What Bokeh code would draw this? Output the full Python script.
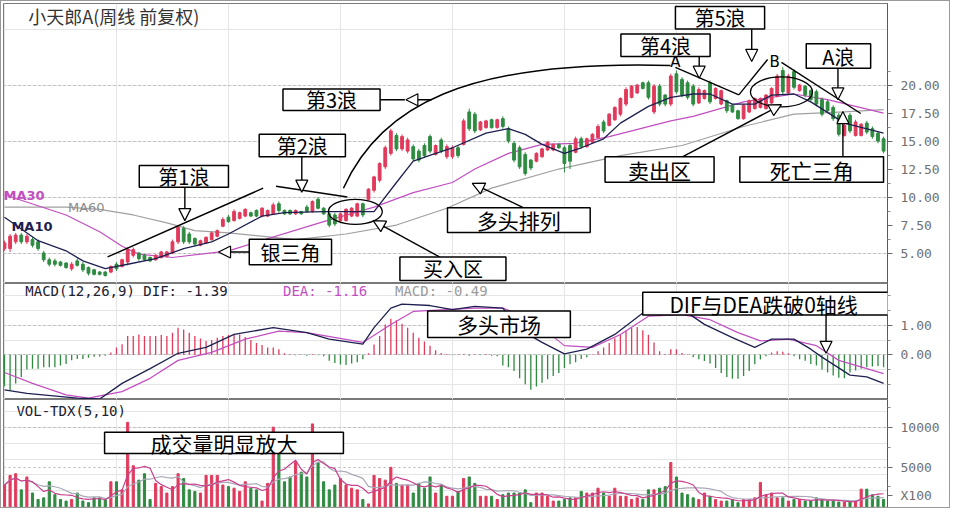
import pandas as pd
from bokeh.plotting import figure
from bokeh.models import (ColumnDataSource, Range1d, LinearAxis, FixedTicker, NumeralTickFormatter,
                          Label, Arrow, NormalHead, BoxAnnotation, Grid)
from bokeh.layouts import column
from bokeh.embed import file_html
from bokeh.resources import INLINE

# ---------------- data ----------------
OPEN = [5.4, 5.4, 6.0, 6.6, 6.0, 6.2, 6.0, 5.0, 4.4, 4.3,
        4.2, 4.1, 3.6, 4.3, 4.0, 3.7, 3.5, 3.3, 3.3, 3.3,
        4.0, 3.8, 4.2, 4.8, 5.0, 4.8, 4.6, 4.4, 4.6, 4.7,
        5.0, 6.0, 7.2, 6.7, 6.3, 5.7, 5.9, 6.2, 6.5, 7.4,
        8.2, 7.9, 8.1, 8.3, 8.6, 8.8, 8.3, 8.3, 8.5, 9.4,
        8.8, 8.8, 8.5, 8.7, 9.1, 8.7, 9.8, 9.0, 8.5, 8.4,
        7.9, 7.9, 8.3, 8.3, 9.4, 9.8, 10.6, 11.5, 12.7, 13.9,
        15.5, 14.3, 14.1, 14.5, 14.1, 14.6, 15.4, 13.8, 15.1, 13.6,
        13.6, 14.4, 14.7, 17.6, 17.4, 16.0, 16.2, 16.9, 16.2, 17.0,
        16.1, 14.8, 14.4, 13.8, 13.3, 13.2, 13.6, 14.2, 14.2, 14.7,
        14.4, 14.6, 14.0, 15.2, 14.5, 14.9, 15.3, 16.7, 16.4, 16.9,
        17.4, 18.3, 18.9, 19.3, 20.2, 20.2, 17.6, 19.9, 19.1, 18.3,
        21.0, 20.5, 20.2, 19.9, 18.4, 18.8, 20.2, 18.8, 18.3, 18.6,
        18.2, 17.7, 17.0, 17.6, 17.9, 18.0, 17.9, 18.4, 19.0, 21.3,
        19.3, 21.2, 19.5, 19.9, 19.5, 19.4, 18.7, 18.5, 18.0, 17.3,
        15.5, 17.3, 15.5, 15.5, 16.6, 16.1, 15.7, 15.2]
CLOSE = [5.9, 6.5, 6.6, 6.0, 6.5, 5.7, 5.4, 4.4, 4.0, 4.0,
         3.9, 3.7, 4.0, 3.9, 3.5, 3.2, 3.1, 3.1, 3.0, 3.8,
         3.6, 4.4, 5.3, 5.3, 4.5, 4.4, 4.3, 4.8, 5.1, 5.1,
         6.0, 7.3, 6.0, 6.0, 5.8, 6.1, 6.4, 6.8, 7.0, 8.0,
         7.8, 8.7, 8.6, 8.9, 8.3, 8.3, 9.0, 8.8, 9.3, 8.8,
         8.5, 8.5, 8.8, 8.5, 8.7, 9.6, 9.0, 8.5, 7.5, 7.6,
         8.5, 8.9, 9.0, 9.4, 8.4, 10.7, 11.8, 13.0, 14.4, 15.9,
         14.3, 15.4, 15.1, 13.4, 13.3, 13.7, 14.1, 14.6, 14.1, 14.5,
         14.4, 13.7, 16.8, 16.1, 15.9, 16.7, 16.8, 16.2, 16.9, 16.3,
         15.0, 13.3, 12.7, 12.1, 12.6, 13.9, 14.3, 14.9, 14.7, 14.4,
         13.0, 13.2, 15.2, 14.5, 15.2, 15.6, 16.3, 15.9, 17.4, 18.0,
         18.8, 19.6, 19.9, 20.0, 19.7, 18.9, 19.9, 18.3, 18.3, 20.8,
         19.4, 19.1, 18.9, 18.3, 19.6, 19.5, 18.5, 19.7, 19.5, 17.7,
         17.6, 17.0, 18.2, 18.6, 18.8, 18.8, 19.1, 19.7, 20.8, 19.4,
         20.8, 19.8, 20.0, 19.1, 18.7, 18.3, 17.4, 17.7, 17.0, 15.6,
         16.4, 15.9, 16.7, 16.5, 15.8, 15.4, 15.0, 14.1]
HIGH = [6.1, 6.7, 6.8, 6.8, 6.7, 6.4, 6.2, 5.2, 4.6, 4.5,
        4.3, 4.2, 4.2, 4.5, 4.2, 3.8, 3.6, 3.4, 3.4, 3.9,
        4.2, 4.5, 5.5, 5.5, 5.1, 4.9, 4.7, 4.9, 5.2, 5.2,
        6.2, 7.5, 7.4, 6.9, 6.4, 6.2, 6.5, 6.9, 7.1, 8.2,
        8.4, 8.9, 8.7, 9.0, 8.7, 8.9, 9.1, 8.9, 9.5, 9.6,
        8.9, 8.9, 8.9, 8.7, 9.3, 9.7, 10.0, 9.1, 8.7, 8.6,
        8.6, 9.0, 9.1, 9.5, 9.5, 10.8, 11.9, 13.1, 14.6, 16.1,
        15.7, 15.6, 15.3, 14.7, 14.3, 14.8, 15.6, 14.7, 15.3, 14.7,
        14.6, 14.6, 17.0, 17.9, 17.6, 16.8, 16.9, 17.0, 17.0, 17.2,
        16.3, 15.0, 14.6, 14.0, 13.4, 14.0, 14.4, 15.0, 14.8, 14.8,
        14.6, 14.8, 15.4, 15.4, 15.3, 15.7, 16.5, 16.9, 17.5, 18.1,
        18.9, 19.8, 20.0, 20.1, 20.3, 20.4, 20.1, 20.1, 19.2, 21.0,
        21.3, 20.7, 20.4, 20.1, 19.8, 19.6, 20.4, 19.8, 19.6, 18.7,
        18.3, 17.8, 18.3, 18.7, 18.9, 18.9, 19.2, 19.8, 21.0, 21.6,
        21.0, 21.4, 20.1, 20.0, 19.6, 19.6, 18.9, 18.7, 18.2, 17.5,
        16.6, 17.5, 16.9, 16.6, 16.8, 16.3, 15.9, 15.4]
LOW = [5.2, 5.1, 5.8, 5.8, 5.8, 5.5, 5.2, 4.2, 3.8, 3.8,
       3.8, 3.6, 3.4, 3.8, 3.3, 3.0, 3.0, 3.0, 2.9, 3.2,
       3.4, 3.7, 3.9, 4.6, 4.3, 4.3, 4.2, 4.3, 4.5, 4.6,
       4.9, 5.8, 5.8, 5.8, 5.6, 5.6, 5.8, 6.1, 6.4, 7.3,
       7.7, 7.8, 8.0, 8.2, 8.2, 8.2, 8.2, 8.2, 8.4, 8.6,
       8.4, 8.4, 8.4, 8.4, 8.6, 8.6, 8.9, 8.4, 7.3, 7.4,
       7.8, 7.8, 8.2, 8.2, 8.2, 9.7, 10.4, 11.3, 12.5, 13.7,
       14.1, 14.1, 13.9, 13.2, 13.1, 13.5, 13.9, 13.7, 13.9, 13.4,
       13.4, 13.5, 14.6, 15.9, 15.7, 15.9, 16.1, 16.1, 16.1, 16.1,
       14.8, 13.1, 12.5, 11.9, 12.4, 13.1, 13.5, 14.1, 14.1, 14.3,
       12.2, 12.5, 13.9, 14.3, 14.4, 14.8, 15.2, 15.7, 16.3, 16.8,
       17.2, 18.1, 18.8, 19.2, 19.6, 18.7, 17.4, 18.1, 18.1, 18.1,
       19.2, 18.9, 18.7, 18.1, 18.3, 18.7, 18.3, 18.7, 18.2, 17.5,
       17.5, 16.9, 16.9, 17.5, 17.8, 17.9, 17.8, 18.3, 18.9, 19.2,
       19.2, 19.6, 19.4, 18.9, 18.5, 18.1, 17.2, 17.5, 16.8, 15.4,
       15.4, 15.7, 15.4, 15.4, 15.6, 15.2, 14.8, 13.9]
VOLUME = [2720, 3940, 4150, 2110, 3740, 1710, 890, 1100, 3130, 1500,
          890, 690, 890, 1710, 690, 490, 1100, 1100, 890, 3130,
          3130, 2110, 10650, 5160, 3340, 4150, 890, 2930, 2520, 1710,
          2520, 4150, 3540, 2110, 1910, 1710, 3940, 3940, 3940, 2720,
          2520, 2320, 1910, 3130, 2320, 2110, 690, 2930, 10040, 6790,
          3130, 3740, 5570, 4350, 3740, 10450, 5570, 3130, 2110, 2720,
          3540, 2720, 2320, 2110, 890, 330, 3940, 3540, 3340, 4960,
          2930, 2720, 2720, 1710, 2930, 2320, 3740, 1710, 2720, 1300,
          1300, 1910, 3540, 3740, 2930, 1300, 1300, 1300, 890, 1500,
          1710, 1710, 1710, 2110, 490, 1710, 1710, 1300, 690, 690,
          890, 1100, 1100, 1910, 1710, 1710, 2320, 1710, 1300, 2320,
          1300, 1300, 890, 1100, 890, 2110, 2110, 2320, 2520, 5570,
          3740, 1710, 1500, 1100, 890, 1710, 1300, 890, 690, 690,
          890, 490, 890, 890, 1100, 3050, 1500, 1710, 1100, 1100,
          690, 890, 890, 690, 690, 1100, 890, 690, 690, 570,
          570, 570, 690, 2200, 2200, 1500, 1300, 890]
MACD_HIST = [-1.07, -1.2, -0.97, -0.75, -0.5, -0.47, -0.47, -0.42, -0.42, -0.42,
             -0.36, -0.31, -0.19, -0.14, -0.14, -0.1, -0.07, -0.06, -0.03, 0.08,
             0.25, 0.36, 0.64, 0.64, 0.69, 0.64, 0.64, 0.64, 0.67, 0.64,
             0.75, 0.92, 0.86, 0.75, 0.64, 0.55, 0.47, 0.5, 0.58, 0.64,
             0.67, 0.69, 0.69, 0.6, 0.5, 0.4, 0.33, 0.25, 0.25, 0.19,
             0.05, 0.02, -0.02, 0.02, -0.03, 0.03, -0.02, -0.05, -0.2, -0.28,
             -0.33, -0.35, -0.3, -0.25, -0.15, 0.05, 0.35, 0.64, 1.03, 1.22,
             1.17, 1.05, 0.92, 0.75, 0.58, 0.45, 0.31, 0.15, 0.06, 0.03,
             -0.02, 0.02, 0.03, -0.03, 0.02, -0.02, 0.03, -0.03, -0.05, -0.36,
             -0.42, -0.55, -0.8, -1.0, -1.19, -1.08, -0.95, -0.83, -0.72, -0.62,
             -0.45, -0.32, -0.25, -0.14, -0.08, 0.02, 0.12, 0.25, 0.4, 0.56,
             0.67, 0.81, 0.92, 0.94, 0.83, 0.68, 0.42, 0.12, 0.03, 0.19,
             0.19, 0.06, 0.02, -0.08, -0.15, -0.21, -0.3, -0.45, -0.62, -0.75,
             -0.81, -0.81, -0.72, -0.55, -0.32, -0.16, -0.05, 0.08, 0.12, 0.1,
             0.05, -0.05, -0.15, -0.2, -0.31, -0.36, -0.5, -0.6, -0.7, -0.78,
             -0.8, -0.6, -0.53, -0.47, -0.42, -0.4, -0.38, -0.42]

# moving-average / indicator lines read at the bar positions where they were measured
MA10_IDX = [0, 6, 11, 14, 18, 22, 27, 32, 37, 40, 46, 50, 57, 66, 70, 73, 77, 80, 86, 90,
            93, 96, 100, 103, 107, 110, 115, 119, 123, 126, 130, 134, 137, 141, 144, 150, 157]
MA10_VAL = [8.2, 6.1, 5.2, 4.3, 3.6, 4.0, 4.5, 5.4, 6.0, 6.7, 8.3, 8.6, 8.7, 8.7, 11.3, 13.2, 13.9, 14.4, 15.7, 16.1,
            15.6, 14.7, 13.9, 14.4, 15.2, 16.6, 18.1, 18.9, 19.2, 19.2, 18.3, 18.3, 19.1, 19.2, 18.5, 16.6, 15.7]
MA30_IDX = [0, 11, 17, 21, 24, 30, 40, 57, 66, 73, 80, 84, 90, 96, 102, 108, 119, 123, 132, 141, 147, 157]
MA30_VAL = [10.2, 8.4, 6.9, 5.6, 4.9, 4.6, 5.2, 7.8, 9.1, 10.4, 11.3, 12.5, 13.9, 14.7, 14.8, 15.4, 16.8, 17.2,
            18.5, 19.2, 18.7, 17.5]
MA60_IDX = [0, 11, 17, 23, 29, 34, 40, 52, 61, 70, 79, 87, 99, 110, 121, 132, 141, 150, 157]
MA60_VAL = [9.1, 9.1, 8.9, 8.4, 7.7, 7.0, 6.8, 6.2, 6.7, 7.5, 9.0, 10.8, 12.5, 13.7, 14.6, 16.3, 17.4, 17.6, 17.8]
DIF_IDX = [0, 4, 13, 17, 21, 26, 31, 36, 41, 48, 54, 58, 64, 66, 69, 71, 76, 80, 84, 89,
           92, 96, 100, 104, 109, 114, 117, 122, 125, 130, 134, 137, 141, 144, 146, 151, 154, 157]
DIF_VAL = [-1.19, -1.31, -1.47, -1.5, -0.97, -0.47, 0.05, 0.25, 0.69, 0.92, 0.75, 0.53, 0.36, 0.92, 1.58, 1.72,
           1.67, 1.53, 1.64, 1.58, 0.86, 0.42, 0.03, 0.19, 0.69, 1.42, 1.36, 1.42, 1.03, 0.58, 0.25, 0.53, 0.53,
           0.19, -0.08, -0.69, -0.75, -0.97]
DEA_IDX = [0, 5, 11, 15, 21, 26, 31, 37, 43, 49, 54, 64, 69, 73, 79, 84, 89, 92, 96, 100,
           105, 110, 115, 121, 126, 131, 135, 140, 145, 149, 154, 157]
DEA_VAL = [-0.6, -0.97, -1.36, -1.47, -1.25, -0.8, -0.19, 0.08, 0.53, 0.8, 0.75, 0.42, 1.03, 1.47, 1.53, 1.58,
           1.58, 1.36, 0.92, 0.31, 0.25, 0.69, 1.31, 1.36, 1.19, 0.75, 0.47, 0.53, 0.31, -0.19, -0.47, -0.64]

PRICE_TICKS = [5, 7.5, 10, 12.5, 15, 17.5, 20]
PRICE_GRID = [5, 10, 15, 20]
MACD_TICKS = [0, 1]
VOL_TICKS = [5000, 10000]
VOL_UNIT_AT = 1400          # where the "X100" unit mark sits on the volume scale
VOL_UNIT = "X100"

TITLE = "小天郎A(周线 前复权)"
MACD_LABELS = ["MACD(12,26,9) DIF: -1.39", "DEA: -1.16", "MACD: -0.49"]
VOL_LABEL = "VOL-TDX(5,10)"

# ---------------- styling ----------------
RED = "#e03a5c"
GREEN = "#2e8b40"
NAVY = "#1e2050"
MAGENTA = "#c24ec2"
GREY = "#a0a0a0"
CJK = "Noto Sans CJK SC"
MONO = "DejaVu Sans Mono"

N = len(CLOSE)
xs = list(range(N))
cols = [RED if c >= o else GREEN for o, c in zip(OPEN, CLOSE)]
mcols = [RED if m >= 0 else GREEN for m in MACD_HIST]
vol_s = pd.Series(VOLUME, dtype=float)
src = ColumnDataSource(dict(
    x=xs, o=OPEN, h=HIGH, l=LOW, c=CLOSE,
    top=[max(o, c) for o, c in zip(OPEN, CLOSE)],
    bot=[min(o, c) for o, c in zip(OPEN, CLOSE)],
    color=cols, vol=VOLUME, macd=MACD_HIST, mcol=mcols,
    vma5=vol_s.rolling(5, min_periods=1).mean().tolist(),
    vma10=vol_s.rolling(10, min_periods=1).mean().tolist(),
))

# reference-pixel -> data helpers (for annotation placement only)
def PX(x): return (x - 6) / 5.65
def PY(y): return 20 - (y - 88) / 11.4
def MY(y): return (362.5 - y) / 30
def VY(y): return (519 - y) * 10000 / 82

W = 948
xr = Range1d(PX(5), PX(897))

def make(h, yr, top=0):
    p = figure(width=W, height=h, x_range=xr, y_range=Range1d(*yr), output_backend="svg",
               toolbar_location=None, x_axis_location=None, y_axis_location=None,
               min_border_left=2, min_border_right=62, min_border_top=top, min_border_bottom=0,
               background_fill_color="white", border_fill_color="white",
               outline_line_color="#7a7a7a", outline_line_width=1)
    return p

def add_axis(p, ticks, minor, fmt, overrides=None):
    ax = LinearAxis(ticker=FixedTicker(ticks=ticks, minor_ticks=minor),
                    formatter=NumeralTickFormatter(format=fmt))
    ax.axis_line_color = "#5a5a5a"
    ax.major_tick_line_color = "#6a6a6a"
    ax.minor_tick_line_color = "#8a8a8a"
    ax.major_tick_out = 5
    ax.major_tick_in = 0
    ax.minor_tick_out = 3
    ax.minor_tick_in = 0
    ax.major_label_text_font = MONO
    ax.major_label_text_font_size = "13px"
    ax.major_label_text_color = "#707070"
    ax.major_label_standoff = 8
    if overrides:
        ax.major_label_overrides = overrides
    p.add_layout(ax, "right")

def add_grid(p, ticks):
    g = Grid(dimension=1, ticker=FixedTicker(ticks=ticks))
    g.grid_line_color = "#b4b4b4"
    g.grid_line_dash = "2 3"
    g.grid_line_width = 1
    p.add_layout(g)

def box(p, fy, x0, x1, y0, y1, text, size="19px", font=CJK, tx=None):
    p.add_layout(BoxAnnotation(left=PX(x0), right=PX(x1), top=fy(y0), bottom=fy(y1),
                               fill_color="white", fill_alpha=1.0, line_color="black",
                               line_alpha=1.0, line_width=1.5))
    cx = (x0 + x1) / 2 if tx is None else tx
    p.add_layout(Label(x=PX(cx), y=fy((y0 + y1) / 2), text=text, text_font=font,
                       text_font_size=size, text_color="black", text_align="center",
                       text_baseline="middle"))

def arrow(p, fy, x0, y0, x1, y1, head=True):
    end = NormalHead(size=12, fill_color="white", line_color="black", line_width=1.2) if head else None
    p.add_layout(Arrow(end=end, x_start=PX(x0), y_start=fy(y0), x_end=PX(x1), y_end=fy(y1),
                       line_color="black", line_width=1.4))

def text(p, fy, x, y, t, color, size, font, style="normal", align="left"):
    p.add_layout(Label(x=PX(x), y=fy(y), text=t, text_color=color, text_font=font,
                       text_font_size=size, text_font_style=style, text_align=align,
                       text_baseline="middle"))

# ---------------- price panel ----------------
p1 = make(282, (PY(290), PY(5)), top=2)
add_grid(p1, PRICE_GRID)
add_axis(p1, PRICE_TICKS, [6.25, 8.75, 11.25, 13.75, 16.25, 18.75, 21.25], "0.00")
p1.line(MA60_IDX, MA60_VAL, line_color=GREY, line_width=1.2)
p1.line(MA30_IDX, MA30_VAL, line_color=MAGENTA, line_width=1.2)
p1.segment(x0="x", y0="l", x1="x", y1="h", line_color="color", line_width=1, source=src)
p1.vbar(x="x", top="top", bottom="bot", width=0.5, fill_color="color", line_color="color", source=src)
p1.line(MA10_IDX, MA10_VAL, line_color=NAVY, line_width=1.3)

# wave arc and ellipses
p1.bezier(x0=PX(348), y0=PY(193), x1=PX(678), y1=PY(68), cx0=PX(385), cy0=PY(110),
          cx1=PX(470), cy1=PY(62), line_color="black", line_width=1.5)
p1.ellipse(x=PX(360), y=PY(217), width=54, height=25, width_units="screen", height_units="screen",
           fill_alpha=0, line_color="black", line_width=1.3)
p1.ellipse(x=PX(790), y=PY(95), width=62, height=30, width_units="screen", height_units="screen",
           fill_alpha=0, line_color="black", line_width=1.3)

# trend/wave lines
arrow(p1, PY, 110, 263, 267, 193, head=False)
arrow(p1, PY, 280, 191, 352, 202, head=False)
arrow(p1, PY, 683, 70, 747, 98, head=False)
arrow(p1, PY, 747, 98, 776, 62, head=False)
arrow(p1, PY, 790, 65, 870, 117, head=False)
arrow(p1, PY, 385, 103, 410, 103, head=False)

text(p1, PY, 30, 18, TITLE, "#333333", "18px", CJK)
text(p1, PY, 5, 200, "MA30", MAGENTA, "13px", "DejaVu Sans", "bold")
text(p1, PY, 70, 213, "MA60", "#8c8c8c", "13px", "DejaVu Sans")
text(p1, PY, 13, 232, "MA10", NAVY, "13px", "DejaVu Sans", "bold")
text(p1, PY, 683, 65, "A", "black", "15px", "DejaVu Sans", align="center")
text(p1, PY, 783, 65, "B", "black", "15px", "DejaVu Sans", align="center")

arrow(p1, PY, 188, 192, 188, 226)
arrow(p1, PY, 306, 161, 306, 197)
arrow(p1, PY, 437, 103, 411, 103)
arrow(p1, PY, 707, 59, 707, 81)
arrow(p1, PY, 760, 31, 760, 64)
arrow(p1, PY, 847, 71, 847, 103)
arrow(p1, PY, 852, 161, 852, 115)
arrow(p1, PY, 690, 161, 790, 108)
arrow(p1, PY, 530, 213, 478, 188)
arrow(p1, PY, 445, 263, 378, 226)
arrow(p1, PY, 253, 258, 222, 258)

box(p1, PY, 142, 232, 170, 192, "第1浪", "20px")
box(p1, PY, 263, 350, 138, 161, "第2浪", "20px")
box(p1, PY, 287, 385, 92, 114, "第3浪", "20px")
box(p1, PY, 628, 718, 36, 59, "第4浪", "20px")
box(p1, PY, 683, 773, 8, 31, "第5浪", "20px")
box(p1, PY, 815, 880, 46, 71, "A浪", "20px")
box(p1, PY, 253, 336, 245, 271, "银三角", "20px")
box(p1, PY, 405, 512, 263, 287, "买入区", "20px")
box(p1, PY, 453, 597, 213, 238, "多头排列", "21px")
box(p1, PY, 612, 722, 161, 187, "卖出区", "21px")
box(p1, PY, 748, 893, 161, 187, "死亡三角", "21px")

# ---------------- MACD panel ----------------
p2 = make(116, (MY(408), MY(290)))
add_grid(p2, MACD_TICKS)
add_axis(p2, MACD_TICKS, [-1.0, -0.5, 0.5, 1.5, 2.0], "0.00")
p2.segment(x0="x", y0=0, x1="x", y1="macd", line_color="mcol", line_width=1.3, source=src)
p2.line(DEA_IDX, DEA_VAL, line_color=MAGENTA, line_width=1.2)
p2.line(DIF_IDX, DIF_VAL, line_color=NAVY, line_width=1.3)
text(p2, MY, 27, 298, MACD_LABELS[0], "#202030", "14px", MONO)
text(p2, MY, 287, 298, MACD_LABELS[1], MAGENTA, "14px", MONO)
text(p2, MY, 400, 298, MACD_LABELS[2], "#9a9a9a", "14px", MONO)
box(p2, MY, 433, 577, 318, 345, "多头市场", "21px")
arrow(p2, MY, 835, 322, 835, 361)
box(p2, MY, 650, 953, 299, 322, "DIF与DEA跌破0轴线", "21px", tx=772)

# ---------------- volume panel ----------------
p3 = make(108, (VY(520), VY(408)))
add_grid(p3, VOL_TICKS)
add_axis(p3, VOL_TICKS + [VOL_UNIT_AT], [2500, 7500, 12500], "0", overrides={VOL_UNIT_AT: VOL_UNIT})
p3.vbar(x="x", top="vol", bottom=0, width=0.38, fill_color="color", line_color="color", source=src)
p3.line("x", "vma10", line_color="#a8a8b8", line_width=1.2, source=src)
p3.line("x", "vma5", line_color="#c8408e", line_width=1.2, source=src)
text(p3, VY, 18, 420, VOL_LABEL, "#202030", "14px", MONO)
box(p3, VY, 107, 348, 442, 464, "成交量明显放大", "21px")

layout = column(p1, p2, p3, spacing=0, styles={"border": "1px solid #9a9a9a"})

open("out.html", "w").write(file_html(layout, INLINE))
